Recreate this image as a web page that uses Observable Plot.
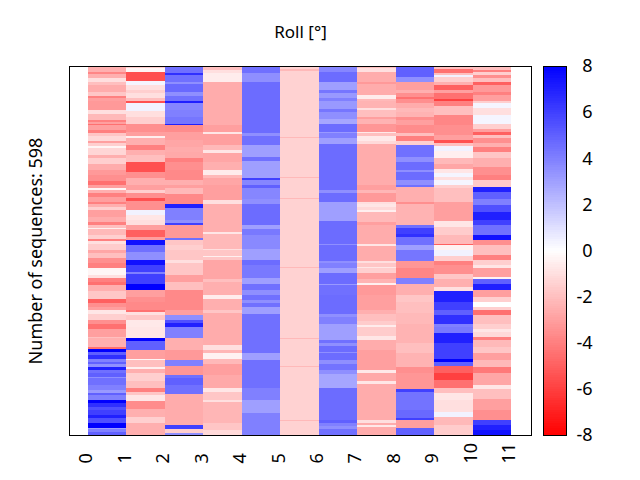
<!DOCTYPE html>
<html><head><meta charset="utf-8">
<script src="https://cdn.jsdelivr.net/npm/d3@7"></script>
<script src="https://cdn.jsdelivr.net/npm/@observablehq/plot@0.6"></script>
<style>body{margin:0;background:#fff}#c{position:relative;width:640px;height:480px;overflow:hidden}#c svg{position:absolute;top:0;background:transparent}</style>
</head><body><div id="c"></div>
<script>
// each run: [last sequence row, roll value]
const col0=[[8,-2.5],[11,-3.8],[18,-2.5],[24,-1],[29,-2],[40,-2.6],[47,-1.8],[51,-4],[56,-3],[70,-3.2],[76,-1],[86,-2.2],[89,-4],[92,-3],[94,-4.5],[102,-3],[107,-4],[112,-1.8],[120,-1.2],[123,-3],[128,-1.5],[132,-.3],[143,-1.3],[148,-2.5],[157,-1.5],[168,-2.6],[176,-3.2],[186,-3.5],[192,-4.5],[196,-3],[200,-.3],[205,-2.5],[211,-4],[219,-3],[222,-4],[227,-2.5],[233,-1.5],[243,-3],[252,-2.6],[256,-4],[261,-2],[264,-.5],[273,-2.2],[279,-1.5],[283,-4],[288,-1],[298,-1.6],[303,-2.8],[310,-2],[319,-3.5],[327,-4],[338,-.3],[343,-1],[349,-4],[355,-4.5],[364,-2.5],[377,-1.8],[383,-5],[390,-3.5],[395,-3],[402,-.8],[411,-1.5],[417,-3.5],[425,-4.5],[438,-3],[441,-2],[455,-2.5],[459,-4.5],[463,8],[468,5],[474,6.5],[479,4],[482,5],[487,3.5],[493,7],[498,4.5],[503,5],[506,3.5],[517,4.5],[525,4],[530,3.2],[533,5],[541,4],[546,8],[552,6.5],[558,5.5],[566,6],[571,7],[579,5.5],[586,8],[589,3],[593,4],[598,5]];
const col1=[[2,-1.5],[8,-.3],[22,-5.5],[29,.3],[37,-1],[43,-1.5],[51,-1],[56,-2],[58,-5.5],[71,.4],[81,-1],[92,-1.5],[105,-3.5],[112,-3],[116,-.5],[127,-2.5],[135,-4],[143,-2.5],[154,-2],[170,-5.5],[181,-3.5],[192,-2.5],[200,-3],[205,-1.5],[213,-3.5],[218,-5.5],[233,-3.5],[241,.4],[249,-.8],[257,-1],[265,-3],[276,-5],[281,-3],[290,7.5],[300,4.5],[314,3.5],[322,7.5],[333,6],[336,4],[352,6],[363,8],[374,-3],[382,-3.5],[395,-3.7],[398,-4.5],[403,-1],[411,-1.8],[422,-.7],[441,-.8],[445,8],[460,5],[474,-3],[476,-.3],[487,-2],[490,-.5],[498,-2.5],[511,-1.5],[522,-2],[528,-4],[533,-1.8],[542,-.8],[555,-3.6],[568,-2.5],[579,-1.5],[598,-2.5]];
const col2=[[10,4.5],[13,6.5],[24,4.5],[27,3.5],[40,4.7],[47,3.5],[55,4.5],[59,7],[70,3.8],[81,4],[92,4.3],[94,7],[105,-3.6],[119,-3],[130,-2.8],[138,-2.6],[148,-2.7],[154,-4],[167,-3.5],[184,-3.7],[192,-2.5],[197,-3],[207,-2.2],[222,-3.7],[229,7],[249,4],[253,3.5],[257,6],[278,-3.2],[281,4.5],[290,-1.8],[298,-1.5],[314,-1.8],[318,-1],[338,-1.8],[349,-3],[363,-2],[395,-3.7],[403,-3],[411,3.5],[416,5.5],[422,7],[441,4],[460,-2.5],[476,-3.2],[486,4],[501,-3.3],[506,4.5],[517,5],[531,4.5],[582,-2.6],[588,6],[594,-1.5],[598,3.5]];
const col3=[[5,-2],[9,-1],[24,-.6],[94,-2.6],[105,-3],[109,-.8],[127,-3],[135,-2.2],[140,-.8],[154,-2.8],[167,-2.5],[176,-.6],[181,-2.2],[192,-2.8],[216,-3],[222,-1],[268,-2.5],[272,-.8],[295,-2.2],[298,-1],[307,-1.8],[309,-.5],[314,-1.8],[344,-2.8],[349,-2],[371,-2.5],[377,-.6],[395,-2.5],[400,-1.8],[452,-2.6],[460,-1],[465,-2.3],[474,-.4],[482,-2.2],[501,-3],[522,-2.7],[528,-.8],[541,-1.8],[544,-1],[579,-2.3],[590,-1.8],[598,-1.2]];
const col4=[[9,4.5],[24,3.5],[107,4.6],[112,3.5],[127,4.5],[146,3],[153,4.5],[181,3],[184,6],[192,3.8],[197,5],[214,3.8],[215,6],[222,3.5],[256,4.6],[264,3],[273,4.2],[295,3.7],[314,3],[322,4.6],[343,4.2],[352,3],[363,4.5],[371,3.5],[379,4.5],[384,3.5],[390,4.5],[402,3],[465,4.5],[476,3],[522,4.5],[541,4],[563,3],[598,4]];
const col5=[[4,-1.4],[6,-2.2],[114,-1.4],[116,-2.2],[179,-1.4],[181,-2.2],[213,-1.4],[215,-2.2],[325,-1.4],[327,-2.2],[440,-1.4],[442,-2.2],[486,-1.4],[488,-2.2],[574,-1.4],[576,-2.2],[598,-1.4]];
const col6=[[8,3.8],[25,4.6],[37,3],[43,4.3],[51,3.2],[56,4],[69,3.2],[73,4.3],[84,3.5],[93,2.8],[105,4.6],[108,3.2],[116,4],[125,3],[200,4.6],[204,3.5],[219,4.6],[250,3],[287,4.6],[290,3.5],[316,4.6],[319,3.5],[326,4],[334,3],[352,4.6],[355,3.2],[371,4.5],[401,4.6],[406,3.5],[417,4],[443,3],[449,4.5],[454,3.5],[463,4.6],[465,3.5],[476,4.6],[483,3.5],[493,4.4],[499,3.5],[522,2.8],[574,4.6],[579,5],[584,4],[589,3.5],[598,4.5]];
const col7=[[2,-2],[8,-1],[24,-2.6],[27,-3.2],[45,-2.6],[52,-.6],[56,-2.2],[67,-2.4],[70,-1],[81,-2],[85,-3],[93,-2.4],[105,-3.3],[108,-.7],[112,-2],[121,-.7],[125,-1.2],[192,-2.6],[200,-3],[205,-2.3],[219,-3.2],[222,-1],[227,-.8],[233,-1.2],[235,-.5],[252,-2.2],[257,-3],[288,-2.6],[291,-.8],[316,-2.6],[319,-1],[325,-1.8],[327,-.8],[334,-1.5],[344,-3],[351,-2.4],[355,-.5],[371,-3.2],[395,-3],[401,-2.5],[412,-2],[419,-1.6],[422,-.6],[437,-1.6],[444,-.8],[460,-2.6],[493,-3],[498,-.7],[511,-2.7],[515,-.8],[574,-2.6],[578,-1],[582,-2.6],[585,-.7],[598,-2.6]];
const col8=[[16,5],[24,3.5],[37,-3],[43,-2.5],[48,-3.5],[52,-4.5],[58,-3.5],[67,-2.6],[73,-2.2],[81,-2.4],[86,-3.5],[94,-3],[107,-3.6],[112,-2],[121,-4],[127,-1.5],[146,4.5],[154,3.5],[167,4.6],[170,3.5],[184,4.6],[192,3.5],[195,4.5],[219,-2.5],[222,-3.5],[257,-2.4],[262,4.5],[271,6],[276,6.5],[290,4.5],[298,3],[316,4.3],[327,-3.3],[343,-3.8],[352,4],[371,-2.5],[382,-1.8],[399,-2],[417,-2.2],[449,-2.4],[465,-2],[487,-2.4],[498,-3.5],[524,-3.3],[528,6],[558,4.4],[571,4.7],[574,6],[587,-3],[598,5]];
const col9=[[4,-2],[9,-4.5],[13,-2],[17,.4],[24,-1.5],[29,-2.5],[37,-5],[43,-3],[52,-4.5],[56,-6],[64,-4],[78,-2],[94,-3.8],[110,-3.5],[119,-3],[124,-5.5],[128,-2],[136,.4],[148,-.5],[157,-2.2],[165,-2.8],[173,-.8],[178,.3],[184,-1],[192,.3],[197,-1.5],[219,-2],[250,-3],[260,-.8],[273,-1.6],[287,-2.2],[290,-5],[298,-.4],[307,.4],[316,-1.5],[322,-4],[336,-3.5],[344,-1.8],[357,-2.5],[364,-1],[382,7],[395,6],[403,5],[417,6.5],[422,4],[433,4.2],[449,7],[474,6],[479,8],[486,5],[498,-5],[509,-6],[522,-4.5],[530,-2],[541,-.8],[560,-1],[568,.4],[582,-2.2],[598,-1.6]];
const col10=[[5,-2],[8,-4],[13,-1.5],[18,-3.5],[24,-2],[29,-5],[40,-3.2],[46,-4],[56,-3],[59,-1.5],[67,.3],[78,-1],[92,.3],[100,-1.5],[105,-3],[110,-5],[116,-2],[124,-3.5],[130,-2.5],[138,-4],[148,-1.8],[162,-2.5],[176,-3.5],[184,-4],[195,-1.7],[203,7],[214,5],[225,4],[235,5.5],[249,7],[257,6],[273,4.5],[281,7.5],[290,-3.5],[306,-2],[314,-4],[322,-1.5],[327,-.8],[341,-3],[344,-.4],[352,5],[363,7],[374,-3],[382,-1.5],[390,0],[395,-1.5],[403,-4.5],[417,-2],[425,-1.5],[430,-.8],[438,-1.2],[444,-4],[455,-2.2],[465,-1.8],[476,-3],[487,-2.2],[498,-4.2],[517,-2.8],[524,-.8],[539,-2],[558,-3],[573,-3.5],[582,6],[590,7],[598,7.5]];
const columns=[col0,col1,col2,col3,col4,col5,col6,col7,col8,col9,col10];
const xTicks=[0,1,2,3,4,5,6,7,8,9,10,11];
const cbarTicks=[-8,-6,-4,-2,0,2,4,6,8];
const cbarLevels=d3.range(-8,8,0.1);

const cells=columns.flatMap((runs,i)=>runs.map((r,j)=>({i,y1:j?runs[j-1][0]:0,y2:r[0],v:r[1]})));
const color={type:"linear",domain:[-8,0,8],range:["#ff0000","#ffffff","#0000ff"]};
const font="'Noto Sans'";

const main=Plot.plot({
  width:640,height:480,marginLeft:69,marginRight:109,marginTop:66,marginBottom:45,
  style:{fontFamily:font,background:"transparent",overflow:"visible"},
  x:{domain:[-0.494,11.52],axis:null},
  y:{domain:[598,-1.6],axis:null},
  color,
  marks:[
    Plot.rect(cells,{x1:"i",x2:d=>d.i+1,y1:"y1",y2:"y2",fill:"v",shapeRendering:"crispEdges"}),
    Plot.frame({stroke:"#000",strokeWidth:1}),
    Plot.text(xTicks,{x:d=>d,frameAnchor:"bottom",dy:28,dx:-2,rotate:-90,textAnchor:"start",lineAnchor:"middle",text:d=>String(d),fontSize:18,fill:"#000"}),
    Plot.text(["Roll [°]"],{frameAnchor:"top",textAnchor:"middle",dy:-34,lineAnchor:"middle",fontSize:17,fill:"#000"}),
    Plot.text(["Number of sequences: 598"],{frameAnchor:"left",textAnchor:"middle",dx:-33,rotate:-90,lineAnchor:"middle",fontSize:18,fill:"#000"})
  ]
});
main.style.left="0";
const bar=Plot.plot({
  width:110,height:480,marginLeft:13,marginRight:74,marginTop:66,marginBottom:45,
  style:{fontFamily:font,background:"transparent"},
  y:{domain:[-8,8],axis:null},
  color,
  marks:[
    Plot.rect(cbarLevels,{y1:d=>d,y2:d=>d+0.1,fill:d=>d+0.05,shapeRendering:"crispEdges"}),
    Plot.frame({stroke:"#000",strokeWidth:1}),
    Plot.axisY(cbarTicks,{anchor:"right",tickSize:0,tickPadding:26,textAnchor:"end",fontSize:18,label:null,color:"#000",tickFormat:d=>String(d).replace("\u2212","-")})
  ]
});
bar.style.left="530px";
const c=document.getElementById("c");
c.append(main,bar);
</script></body></html>
